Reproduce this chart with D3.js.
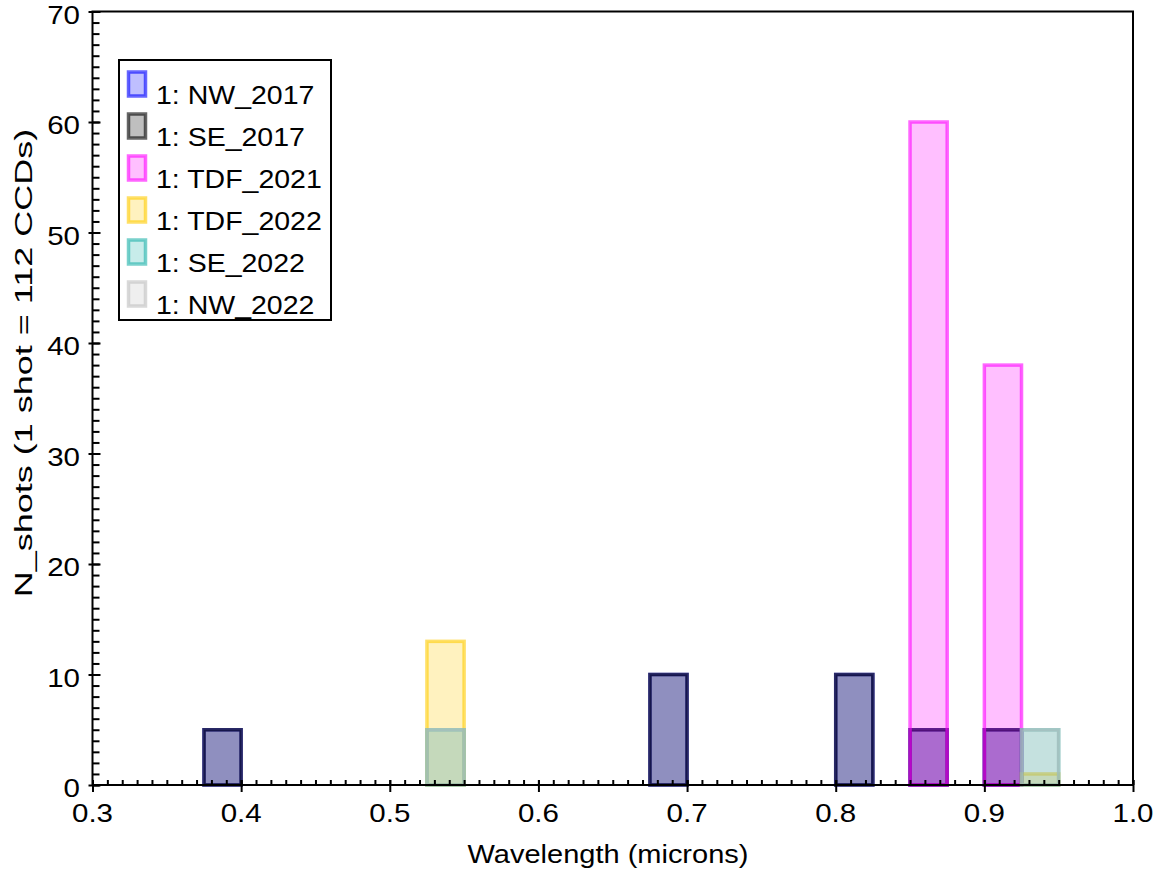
<!DOCTYPE html>
<html>
<head>
<meta charset="utf-8">
<script src="https://cdn.jsdelivr.net/npm/d3@7"></script>
<style>
  body { margin: 0; background: #fff; }
  text { font-family: "Liberation Sans", Arial, sans-serif; fill: #000; }
</style>
</head>
<body>
<script>
// histogram bins (left edge, microns), bin width 0.025
var binStarts = [0.375, 0.525, 0.675, 0.8, 0.85, 0.9, 0.925];
var binWidth = 0.025;

var seriesNames = ["1: NW_2017", "1: SE_2017", "1: TDF_2021", "1: TDF_2022", "1: SE_2022", "1: NW_2022"];
var seriesColors = ["#0000ff", "#000000", "#ff00ff", "#ffcc00", "#20b2aa", "#c0c0c0"];

var nw2017  = [5, 0, 10, 10, 5, 5, 0];
var se2017  = [5, 0, 10, 10, 5, 5, 0];
var tdf2021 = [0, 0, 0, 0, 60, 38, 0];
var tdf2022 = [0, 13, 0, 0, 0, 0, 1];
var se2022  = [0, 5, 0, 0, 0, 0, 5];
var nw2022  = [0, 5, 0, 0, 0, 0, 5];

var xTicks = [0.3, 0.4, 0.5, 0.6, 0.7, 0.8, 0.9, 1.0];
var yTicks = [0, 10, 20, 30, 40, 50, 60, 70];

var seriesValues = [nw2017, se2017, tdf2021, tdf2022, se2022, nw2022];

var width = 1164, height = 871;
var plot = {left: 92.5, right: 1133, top: 11.5, bottom: 785};

const svg = d3.select("body").append("svg")
    .attr("width", width)
    .attr("height", height);

var x = d3.scaleLinear().domain([0.3, 1.0]).range([plot.left, plot.right]);
var y = d3.scaleLinear().domain([0, 70]).range([plot.bottom, plot.top]);

// bars, drawn series by series so the overlaps blend
seriesValues.forEach(function(vals, si) {
    var data = binStarts.map(function(b, i) { return {x0: b, x1: b + binWidth, v: vals[i]}; })
        .filter(function(d) { return d.v > 0; });
    svg.append("g").selectAll("rect")
        .data(data).enter()
        .append("rect")
        .attr("x", function(d) { return x(d.x0); })
        .attr("width", function(d) { return x(d.x1) - x(d.x0); })
        .attr("y", function(d) { return y(d.v); })
        .attr("height", function(d) { return y(0) - y(d.v); })
        .style("fill", seriesColors[si])
        .style("fill-opacity", 0.25)
        .style("stroke", seriesColors[si])
        .style("stroke-opacity", 0.6)
        .style("stroke-width", 3.5);
});

// frame
svg.append("rect")
    .attr("x", plot.left).attr("y", plot.top)
    .attr("width", plot.right - plot.left).attr("height", plot.bottom - plot.top)
    .style("fill", "none").style("stroke", "#000").style("stroke-width", 2);

// x axis: minor ticks inward, major ticks crossing
var xMinor = d3.range(30, 101).map(function(d) { return d / 100; });
svg.append("g")
    .attr("transform", `translate(0, ${plot.bottom})`)
    .call(d3.axisBottom(x).tickValues(xMinor).tickSize(-5).tickFormat(""))
    .call(function(g) { g.select(".domain").remove(); g.selectAll("line").style("stroke-width", 2); });
var xMajor = svg.append("g")
    .attr("transform", `translate(0, ${plot.bottom})`)
    .call(d3.axisBottom(x).tickValues(xTicks).tickSize(6).tickFormat(""));
xMajor.select(".domain").remove();
xMajor.selectAll("line").attr("y1", -5).attr("y2", 7).style("stroke-width", 2);

// y axis
var yMinor = d3.range(0, 71);
svg.append("g")
    .attr("transform", `translate(${plot.left}, 0)`)
    .call(d3.axisLeft(y).tickValues(yMinor).tickSize(-7).tickFormat(""))
    .call(function(g) { g.select(".domain").remove(); g.selectAll("line").style("stroke-width", 2); });
var yMajor = svg.append("g")
    .attr("transform", `translate(${plot.left}, 0)`)
    .call(d3.axisLeft(y).tickValues(yTicks).tickSize(4).tickFormat(""));
yMajor.select(".domain").remove();
yMajor.selectAll("line").attr("x1", 8).attr("x2", -4).style("stroke-width", 2);

// tick labels (wide font look: stretched horizontally)
svg.append("g").selectAll("text")
    .data(xTicks).enter()
    .append("text")
    .attr("transform", function(d) { return `translate(${x(d)}, 822) scale(1.18, 1)`; })
    .style("text-anchor", "middle")
    .style("font-size", "25px")
    .text(d3.format(".1f"));

svg.append("g").selectAll("text")
    .data(yTicks).enter()
    .append("text")
    .attr("transform", function(d) { return `translate(80, ${y(d) + 12}) scale(1.18, 1)`; })
    .style("text-anchor", "end")
    .style("font-size", "25px")
    .text(function(d) { return d; });

// axis titles
svg.append("text")
    .attr("transform", "translate(608, 863) scale(1.16, 1)")
    .style("text-anchor", "middle")
    .style("font-size", "25px")
    .text("Wavelength (microns)");

svg.append("text")
    .attr("transform", "translate(32, 363) rotate(-90) scale(1.5, 1)")
    .style("text-anchor", "middle")
    .style("font-size", "24px")
    .text("N_shots (1 shot = 112 CCDs)");

// legend
var legend = svg.append("g");
legend.append("rect")
    .attr("x", 119).attr("y", 60).attr("width", 212).attr("height", 260)
    .style("fill", "#fff").style("stroke", "#000").style("stroke-width", 2);

var rows = legend.selectAll(".row")
    .data(seriesNames).enter()
    .append("g")
    .attr("class", "row")
    .attr("transform", function(d, i) { return `translate(0, ${i * 42})`; });

rows.append("rect")
    .attr("x", 128.5).attr("y", 72).attr("width", 17).attr("height", 24)
    .style("fill", function(d, i) { return seriesColors[i]; })
    .style("fill-opacity", 0.25)
    .style("stroke", function(d, i) { return seriesColors[i]; })
    .style("stroke-opacity", 0.6)
    .style("stroke-width", 3.5);

rows.append("text")
    .attr("transform", "translate(156, 104) scale(1.14, 1)")
    .style("font-size", "25px")
    .text(function(d) { return d; });
</script>
</body>
</html>
